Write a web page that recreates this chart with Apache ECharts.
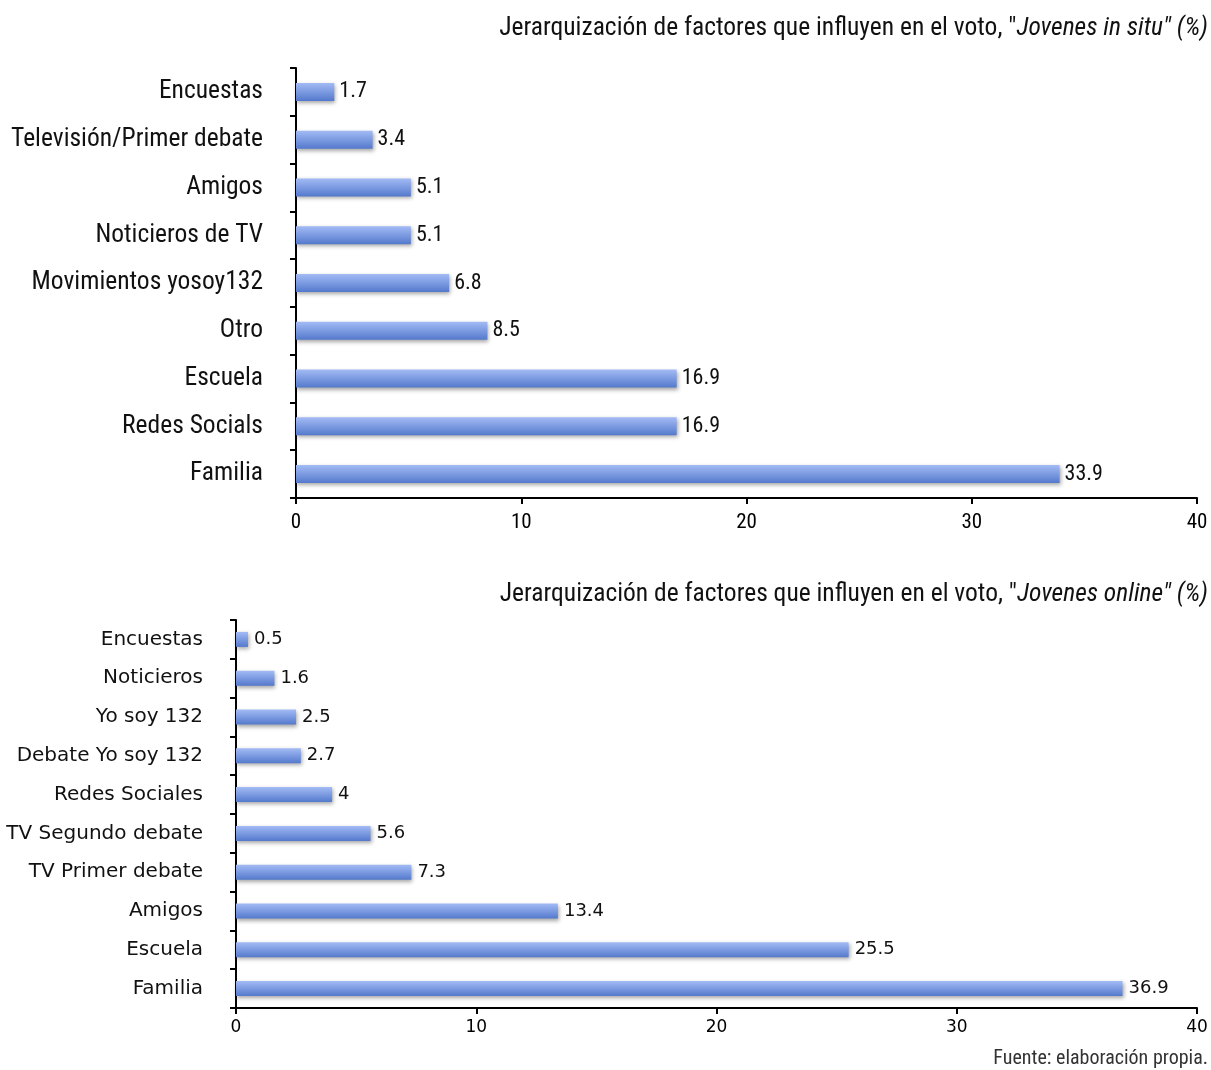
<!DOCTYPE html>
<html><head><meta charset="utf-8">
<script src="https://cdn.jsdelivr.net/npm/echarts@6/dist/echarts.min.js"></script>
<style>html,body{margin:0;padding:0;background:#fff}#c{width:1211px;height:1070px}</style>
</head><body><div id="c"></div>
<script>
const catsTop = ["Encuestas","Televisión/Primer debate","Amigos","Noticieros de TV","Movimientos yosoy132","Otro","Escuela","Redes Socials","Familia"];
const valsTop = [1.7,3.4,5.1,5.1,6.8,8.5,16.9,16.9,33.9];
const catsBot = ["Encuestas","Noticieros","Yo soy 132","Debate Yo soy 132","Redes Sociales","TV Segundo debate","TV Primer debate","Amigos","Escuela","Familia"];
const valsBot = [0.5,1.6,2.5,2.7,4,5.6,7.3,13.4,25.5,36.9];
const titleTop = "Jerarquización de factores que influyen en el voto, \"";
const titleTopIt = "Jovenes in situ\" (%)";
const titleBot = "Jerarquización de factores que influyen en el voto, \"";
const titleBotIt = "Jovenes online\" (%)";
const source = "Fuente: elaboración propia.";

const NARROW = "'Roboto Condensed','DejaVu Sans Condensed',sans-serif";
const WIDE = "'DejaVu Sans',Verdana,sans-serif";
const barColor = new echarts.graphic.LinearGradient(0,0,0,1,[
  {offset:0,color:'#a3bbf5'},{offset:1,color:'#5479cc'}]);
const chart = echarts.init(document.getElementById('c'));
function axisX(gi, font, size, margin){
  return {type:'value', gridIndex:gi, min:0, max:40, interval:10,
    axisLine:{show:true,lineStyle:{color:'#000',width:2}},
    axisTick:{show:true,length:6,lineStyle:{color:'#000',width:2}},
    splitLine:{show:false},
    axisLabel:{color:'#000',fontFamily:font,fontSize:size,margin:margin}};
}
function axisY(gi, cats, font, size, margin){
  return {type:'category', gridIndex:gi, data:cats, inverse:true,
    axisLine:{show:true,lineStyle:{color:'#000',width:2}},
    axisTick:{show:true,length:6,lineStyle:{color:'#000',width:2}},
    axisLabel:{color:'#111',fontFamily:font,fontSize:size,margin:margin}};
}
const rich = {a:{fontFamily:NARROW,fontSize:25.5,fontWeight:'normal',color:'#111'},
              b:{fontFamily:NARROW,fontSize:25.5,fontWeight:'normal',fontStyle:'italic',color:'#111'}};
chart.setOption({
  animation:false,
  title:[
    {text:'{a|'+titleTop+'}{b|'+titleTopIt+'}', right:3, top:16, padding:0, textStyle:{fontWeight:'normal',rich:rich}},
    {text:'{a|'+titleBot+'}{b|'+titleBotIt+'}', right:3, top:582, padding:0, textStyle:{fontWeight:'normal',rich:rich}},
    {text:source, right:3, top:1049, padding:0, textStyle:{fontFamily:NARROW,fontSize:20,fontWeight:'normal',color:'#333'}}
  ],
  grid:[
    {left:296, right:14, top:68, height:430},
    {left:236, right:14, top:620, height:388}
  ],
  xAxis:[axisX(0,NARROW,21,14), axisX(1,WIDE,17,11)],
  yAxis:[axisY(0,catsTop,NARROW,25.5,33), axisY(1,catsBot,WIDE,20,33)],
  series:[
    {type:'bar', xAxisIndex:0, yAxisIndex:0, data:valsTop, barWidth:18,
     itemStyle:{color:barColor,shadowColor:'rgba(0,0,0,0.35)',shadowBlur:4,shadowOffsetY:2,shadowOffsetX:1},
     label:{show:true,position:'right',distance:5,color:'#111',fontFamily:NARROW,fontSize:22}},
    {type:'bar', xAxisIndex:1, yAxisIndex:1, data:valsBot, barWidth:15,
     itemStyle:{color:barColor,shadowColor:'rgba(0,0,0,0.35)',shadowBlur:4,shadowOffsetY:2,shadowOffsetX:1},
     label:{show:true,position:'right',distance:6,color:'#111',fontFamily:WIDE,fontSize:18}}
  ]
});
</script></body></html>
